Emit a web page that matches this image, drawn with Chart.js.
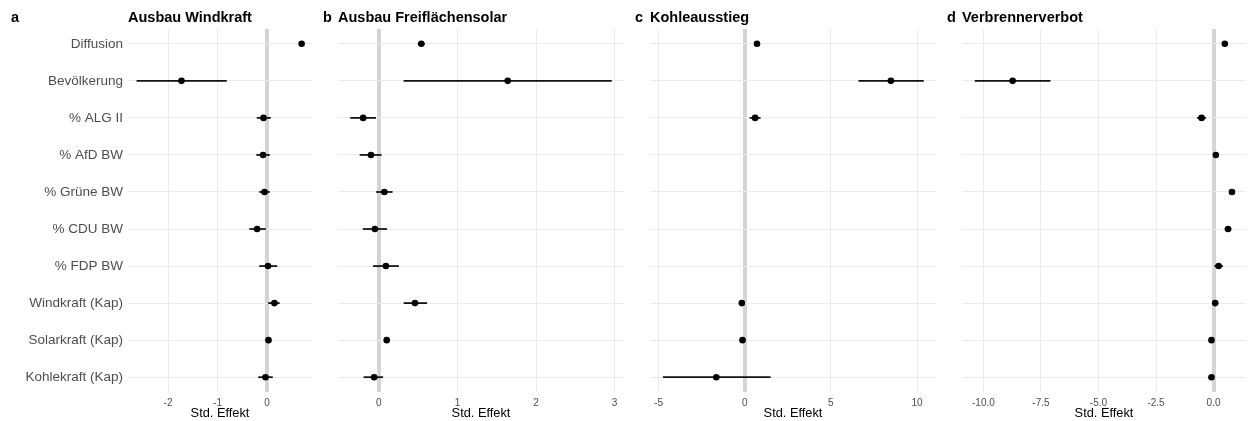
<!DOCTYPE html>
<html>
<head>
<meta charset="utf-8">
<script src="https://cdn.jsdelivr.net/npm/chart.js@4/dist/chart.umd.min.js"></script>
<style>
  body { margin: 0; background: #fff; width: 1250px; height: 421px; overflow: hidden; position: relative; font-family: "Liberation Sans", Arial, sans-serif; }
  .box { position: absolute; top: 0; height: 421px; }
  .ttl { position: absolute; top: 10px; font-size: 14.5px; line-height: 14.5px; font-weight: bold; color: #000; white-space: nowrap; }
</style>
</head>
<body>
<div class="box" style="left:0;width:316px"><canvas id="chartA"></canvas></div>
<div class="box" style="left:316px;width:312px"><canvas id="chartB"></canvas></div>
<div class="box" style="left:628px;width:312px"><canvas id="chartC"></canvas></div>
<div class="box" style="left:940px;width:310px"><canvas id="chartD"></canvas></div>

<div class="ttl" style="left:11px">a</div>
<div class="ttl" style="left:128px">Ausbau Windkraft</div>
<div class="ttl" style="left:323px">b</div>
<div class="ttl" style="left:338px">Ausbau Freiflächensolar</div>
<div class="ttl" style="left:635px">c</div>
<div class="ttl" style="left:650px">Kohleausstieg</div>
<div class="ttl" style="left:947px">d</div>
<div class="ttl" style="left:962px">Verbrennerverbot</div>

<script>
// Predictors (top to bottom)
const categories = ['Diffusion', 'Bevölkerung', '% ALG II', '% AfD BW', '% Grüne BW',
                    '% CDU BW', '% FDP BW', 'Windkraft (Kap)', 'Solarkraft (Kap)', 'Kohlekraft (Kap)'];

// a Ausbau Windkraft
const windEst = [0.70, -1.73, -0.07, -0.08, -0.05, -0.20, 0.02, 0.15, 0.03, -0.03];
const windLo  = [0.67, -2.63, -0.20, -0.21, -0.15, -0.35, -0.15, 0.03, 0.01, -0.17];
const windHi  = [0.73, -0.82, 0.07, 0.05, 0.05, -0.03, 0.20, 0.25, 0.05, 0.11];

// b Ausbau Freiflächensolar
const solarEst = [0.54, 1.64, -0.20, -0.10, 0.07, -0.05, 0.09, 0.46, 0.10, -0.06];
const solarLo  = [0.50, 0.32, -0.36, -0.24, -0.03, -0.20, -0.07, 0.32, 0.08, -0.19];
const solarHi  = [0.58, 2.96, -0.04, 0.03, 0.17, 0.10, 0.25, 0.61, 0.12, 0.05];

// c Kohleausstieg (no party shares)
const coalEst = [0.71, 8.48, 0.60, null, null, null, null, -0.17, -0.13, -1.65];
const coalLo  = [0.60, 6.62, 0.30, null, null, null, null, -0.30, -0.25, -4.73];
const coalHi  = [0.82, 10.37, 0.90, null, null, null, null, -0.04, -0.01, 1.48];

// d Verbrennerverbot
const carEst = [0.49, -8.73, -0.52, 0.10, 0.80, 0.63, 0.22, 0.07, -0.09, -0.09];
const carLo  = [0.40, -10.36, -0.70, 0.00, 0.70, 0.50, 0.05, -0.05, -0.18, -0.20];
const carHi  = [0.58, -7.10, -0.34, 0.20, 0.90, 0.76, 0.39, 0.19, 0.00, 0.02];

const fontFamily = '"Liberation Sans", Arial, sans-serif';

function makePanel(canvasId, est, lo, hi, xMin, xMax, step, decimals, showLabels, padLeft) {
    const points = [];
    const bars = [];
    est.forEach((v, i) => {
        if (v === null) return;
        points.push({ x: v, y: i });
        bars.push({ x: [lo[i], hi[i]], y: i });
    });

    return new Chart(document.getElementById(canvasId), {
        type: 'bar',
        data: {
            datasets: [
                { type: 'scatter', data: points, pointRadius: 3.3, pointBorderWidth: 0,
                  pointBackgroundColor: '#000', order: 0 },
                { type: 'bar', data: bars, backgroundColor: '#111', barThickness: 1.1,
                  borderWidth: 0, order: 1 }
            ]
        },
        options: {
            indexAxis: 'y',
            responsive: true,
            maintainAspectRatio: false,
            animation: false,
            events: [],
            layout: { padding: { top: 29, bottom: 0, left: padLeft, right: 2 } },
            plugins: { legend: { display: false }, tooltip: { enabled: false } },
            scales: {
                x: {
                    type: 'linear', min: xMin, max: xMax,
                    border: { display: false },
                    grid: {
                        drawTicks: false,
                        // thick grey reference line at zero
                        color: ctx => ctx.tick && ctx.tick.value === 0 ? '#d4d4d4' : '#ebebeb',
                        lineWidth: ctx => ctx.tick && ctx.tick.value === 0 ? 4 : 1
                    },
                    ticks: {
                        stepSize: step, includeBounds: false, padding: 5,
                        color: '#4d4d4d', font: { family: fontFamily, size: 10 },
                        callback: v => v.toFixed(decimals)
                    },
                    title: { display: true, text: 'Std. Effekt', color: '#000',
                             padding: { top: 0, bottom: 0 }, font: { family: fontFamily, size: 12.8 } },
                    afterFit: s => { s.height = 29; }
                },
                y: {
                    type: 'linear', min: -0.4, max: 9.4, reverse: true, offset: false,
                    border: { display: false },
                    grid: { drawTicks: false, offset: false, color: '#ebebeb' },
                    ticks: {
                        display: showLabels, stepSize: 1, includeBounds: false, padding: 5,
                        color: '#4d4d4d', font: { family: fontFamily, size: 13.5 },
                        callback: v => categories[v] || ''
                    },
                    afterFit: s => { s.width = showLabels ? 128 : 0; }
                }
            }
        }
    });
}

makePanel('chartA', windEst, windLo, windHi, -2.81, 0.91, 1, 0, true, 0);
makePanel('chartB', solarEst, solarLo, solarHi, -0.52, 3.12, 1, 0, false, 22);
makePanel('chartC', coalEst, coalLo, coalHi, -5.5, 11.1, 5, 0, false, 22);
makePanel('chartD', carEst, carLo, carHi, -10.93, 1.41, 2.5, 1, false, 22);
</script>
</body>
</html>
